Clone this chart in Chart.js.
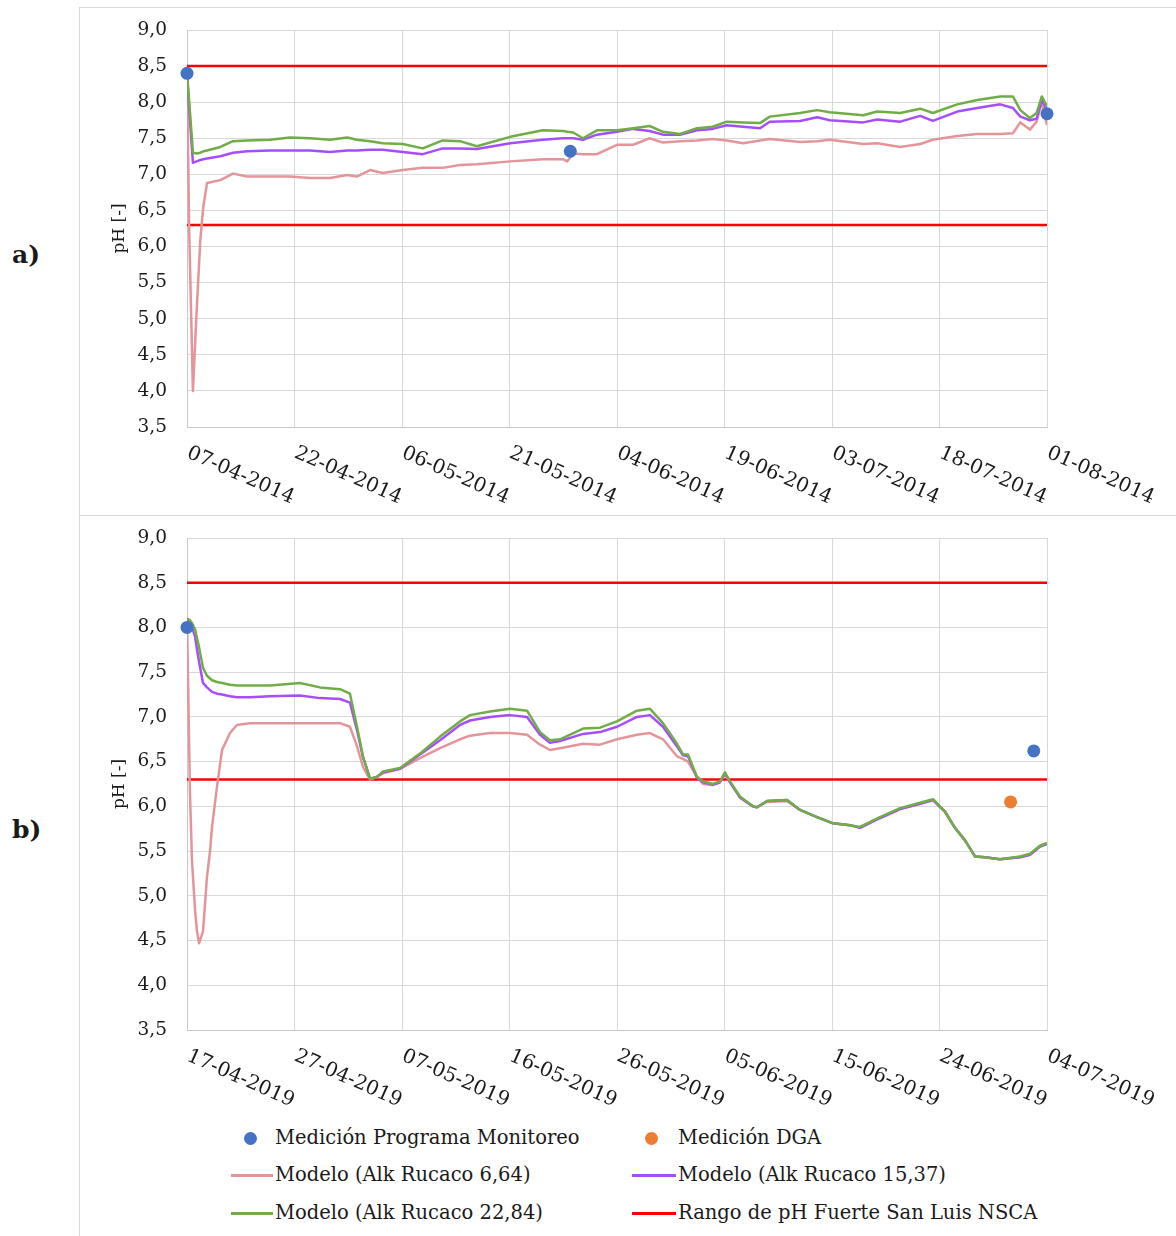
<!DOCTYPE html>
<html>
<head>
<meta charset="utf-8">
<script src="https://cdn.jsdelivr.net/npm/chart.js@4.4.1/dist/chart.umd.min.js"></script>
<style>
  html, body { margin: 0; padding: 0; background: #fff; }
  body { width: 1176px; height: 1236px; position: relative; overflow: hidden; font-family: "DejaVu Serif", serif; color: #1a1a1a; }
  .rule { position: absolute; background: #d9d9d9; }
  canvas { position: absolute; left: 81px; }
  .tag { position: absolute; left: 12px; font: bold 25px "DejaVu Serif", serif; line-height: 30px; }
  .lg-text { position: absolute; font-size: 19.5px; line-height: 24px; white-space: nowrap; }
  .lg-dot { position: absolute; width: 13px; height: 13px; border-radius: 50%; }
  .lg-line { position: absolute; height: 3px; }
</style>
</head>
<body>
<div class="rule" style="left:79px;top:7px;width:1px;height:1229px"></div>
<div class="rule" style="left:79px;top:7px;width:1097px;height:1px"></div>
<div class="rule" style="left:79px;top:515px;width:1097px;height:1px"></div>
<div class="tag" style="top:240px">a)</div>
<div class="tag" style="top:815px">b)</div>
<canvas id="chartA" width="1095" height="507" style="top:8px"></canvas>
<canvas id="chartB" width="1095" height="600" style="top:516px"></canvas>
<div id="legend"></div>
<script>
// ---- Panel a: 2014 (days since 07-04-2014) ----
const aTickLabels = ['07-04-2014','22-04-2014','06-05-2014','21-05-2014','04-06-2014','19-06-2014','03-07-2014','18-07-2014','01-08-2014'];
const aSpanDays = 116;
const aDays = [0,0.3,0.8,1.3,1.8,2.2,2.7,4.5,6.2,8.1,11.2,13.9,16.6,19.3,21.6,22.9,24.7,26.4,29.1,31.8,34.5,36.8,39.1,43.6,48.0,50.7,51.3,52.1,53.4,55.3,58.0,60.2,62.4,64.2,66.5,68.8,70.9,72.8,75.0,77.3,78.6,82.7,85.0,86.7,91.2,93.1,96.2,98.9,100.6,103.9,106.6,109.7,111.4,112.4,113.7,114.6,115.3,116];
const aAlk664 = [8.4,6.2,4.0,5.1,6.1,6.55,6.88,6.92,7.01,6.97,6.97,6.97,6.95,6.95,6.99,6.97,7.06,7.02,7.06,7.09,7.09,7.13,7.14,7.18,7.21,7.21,7.18,7.29,7.28,7.28,7.41,7.41,7.50,7.44,7.46,7.47,7.49,7.47,7.43,7.47,7.49,7.45,7.46,7.48,7.42,7.43,7.38,7.42,7.48,7.53,7.56,7.56,7.57,7.72,7.62,7.73,8.0,7.68];
const aAlk1537 = [8.4,7.9,7.16,7.18,7.2,7.21,7.22,7.25,7.3,7.32,7.33,7.33,7.33,7.31,7.33,7.33,7.34,7.34,7.31,7.28,7.36,7.36,7.35,7.43,7.48,7.50,7.50,7.50,7.48,7.55,7.59,7.63,7.60,7.55,7.55,7.61,7.63,7.68,7.66,7.64,7.73,7.74,7.79,7.75,7.72,7.76,7.73,7.81,7.74,7.87,7.92,7.97,7.92,7.80,7.75,7.77,8.03,7.89];
const aAlk2284 = [8.4,8.0,7.30,7.29,7.30,7.32,7.33,7.38,7.46,7.47,7.48,7.51,7.50,7.48,7.51,7.48,7.46,7.43,7.42,7.36,7.47,7.46,7.39,7.52,7.61,7.60,7.59,7.58,7.50,7.61,7.61,7.64,7.67,7.59,7.56,7.64,7.66,7.73,7.72,7.71,7.80,7.85,7.89,7.86,7.82,7.87,7.85,7.91,7.85,7.97,8.03,8.08,8.08,7.89,7.78,7.85,8.08,7.94];
const aMonitorDays = [0, 51.7, 116];
const aMonitorPH = [8.4, 7.32, 7.84];
const aDgaDays = [];
const aDgaPH = [];

// ---- Panel b: 2019 (days since 17-04-2019) ----
const bTickLabels = ['17-04-2019','27-04-2019','07-05-2019','16-05-2019','26-05-2019','05-06-2019','15-06-2019','24-06-2019','04-07-2019'];
const bSpanDays = 78;
const bDays = [0,0.27,0.45,0.73,0.91,1.09,1.45,1.81,2.09,2.27,2.72,3.18,3.9,4.53,5.71,7.53,10.25,12.06,13.88,14.78,15.42,15.96,16.6,17.23,17.78,19.32,21.13,22.95,24.76,25.67,27.48,29.3,30.84,32.02,32.92,33.83,35.92,37.46,39.0,40.81,41.99,43.17,44.44,44.98,45.44,46.25,46.8,47.7,48.34,48.79,49.25,50.15,51.33,51.7,52.6,54.42,55.6,57.14,58.59,60.13,61.04,62.85,64.67,66.48,67.66,68.75,69.65,70.56,71.47,72.37,73.73,75.55,76.46,77.36,78];
const bAlk664 = [8.1,6.15,5.4,4.84,4.6,4.47,4.6,5.21,5.5,5.77,6.22,6.63,6.82,6.91,6.93,6.93,6.93,6.93,6.93,6.89,6.67,6.44,6.30,6.33,6.37,6.42,6.54,6.65,6.75,6.79,6.82,6.82,6.80,6.69,6.63,6.65,6.70,6.69,6.75,6.80,6.82,6.75,6.56,6.53,6.50,6.33,6.25,6.24,6.27,6.36,6.27,6.10,6.0,5.99,6.05,6.06,5.96,5.88,5.81,5.79,5.76,5.87,5.97,6.03,6.07,5.94,5.76,5.62,5.44,5.43,5.41,5.43,5.46,5.55,5.58];
const bAlk1537 = [8.1,8.05,8.0,7.9,7.75,7.62,7.38,7.33,7.30,7.28,7.26,7.25,7.23,7.22,7.22,7.23,7.24,7.21,7.20,7.16,6.85,6.55,6.31,6.33,6.38,6.42,6.58,6.74,6.91,6.96,7.0,7.02,7.0,6.80,6.71,6.73,6.81,6.83,6.89,7.0,7.02,6.89,6.67,6.57,6.56,6.32,6.27,6.24,6.27,6.37,6.27,6.10,6.0,5.99,6.06,6.07,5.96,5.88,5.81,5.79,5.76,5.87,5.97,6.03,6.07,5.94,5.76,5.62,5.44,5.43,5.41,5.43,5.46,5.55,5.58];
const bAlk2284 = [8.1,8.08,8.05,7.98,7.88,7.78,7.55,7.46,7.43,7.41,7.39,7.38,7.36,7.35,7.35,7.35,7.38,7.33,7.31,7.26,6.89,6.56,6.31,6.33,6.39,6.43,6.59,6.78,6.95,7.02,7.06,7.09,7.07,6.83,6.74,6.75,6.87,6.88,6.95,7.07,7.09,6.93,6.70,6.58,6.58,6.33,6.28,6.25,6.28,6.38,6.28,6.11,6.0,5.99,6.06,6.07,5.96,5.88,5.81,5.79,5.77,5.88,5.98,6.04,6.08,5.94,5.76,5.62,5.44,5.43,5.41,5.44,5.47,5.56,5.59];
const bMonitorDays = [0, 76.8];
const bMonitorPH = [8.0, 6.62];
const bDgaDays = [74.7];
const bDgaPH = [6.05];

// NSCA pH range limits (Fuerte San Luis)
const phRange = [6.3, 8.5];

const seriesNames = ['Medición Programa Monitoreo', 'Medición DGA', 'Modelo (Alk Rucaco 6,64)', 'Modelo (Alk Rucaco 15,37)', 'Modelo (Alk Rucaco 22,84)', 'Rango de pH Fuerte San Luis NSCA'];
const seriesColors = ['#4472c4', '#ed7d31', '#e3959a', '#a64dff', '#70ad47', '#ff0000'];
const seriesKind = ['dot', 'dot', 'line', 'line', 'line', 'line'];

const SERIF = '"DejaVu Serif", serif';
const TEXT = '#1a1a1a';
const GRID = '#d9d9d9';

const pairs = (xs, ys) => xs.map((x, i) => ({ x, y: ys[i] }));

// Rotated date labels and the vertical axis title
const axisText = {
  id: 'axisText',
  afterDraw(chart, args, opts) {
    const { ctx, chartArea } = chart;
    const xs = chart.scales.x;
    ctx.save();
    ctx.fillStyle = TEXT;
    ctx.font = '20px ' + SERIF;
    ctx.textAlign = 'left';
    ctx.textBaseline = 'top';
    xs.ticks.forEach((t, i) => {
      const px = xs.getPixelForValue(t.value);
      ctx.save();
      ctx.translate(px + 5, chartArea.bottom + 16);
      ctx.rotate(24 * Math.PI / 180);
      ctx.fillText(opts.labels[i], 0, 0);
      ctx.restore();
    });
    ctx.translate(39, (chartArea.top + chartArea.bottom) / 2);
    ctx.rotate(-Math.PI / 2);
    ctx.textAlign = 'center';
    ctx.textBaseline = 'middle';
    ctx.font = '17px ' + SERIF;
    ctx.fillText('pH [-]', 0, 0);
    ctx.restore();
  }
};

function buildChart(id, pad, span, tickLabels, days, alk664, alk1537, alk2284, monDays, monPH, dgaDays, dgaPH) {
  const dot = (i, xs, ys) => ({
    label: seriesNames[i], data: pairs(xs, ys), showLine: false,
    pointRadius: 6.5, pointHoverRadius: 6.5, pointBorderWidth: 0,
    backgroundColor: seriesColors[i], borderColor: seriesColors[i], clip: false, order: 0
  });
  const line = (i, ys, order) => ({
    label: seriesNames[i], data: pairs(days, ys), borderColor: seriesColors[i],
    borderWidth: 2.5, pointRadius: 0, tension: 0, borderJoinStyle: 'round', order
  });
  const limit = (v) => ({
    label: seriesNames[5], data: [{ x: 0, y: v }, { x: span, y: v }], borderColor: seriesColors[5],
    borderWidth: 2.5, pointRadius: 0, order: 4
  });
  return new Chart(document.getElementById(id), {
    type: 'line',
    data: {
      datasets: [
        dot(0, monDays, monPH),
        dot(1, dgaDays, dgaPH),
        line(2, alk664, 3),
        line(3, alk1537, 2),
        line(4, alk2284, 1),
        limit(phRange[1]),
        limit(phRange[0])
      ]
    },
    options: {
      responsive: false,
      animation: false,
      devicePixelRatio: 1,
      events: [],
      layout: { padding: pad, autoPadding: false },
      plugins: { legend: { display: false }, tooltip: { enabled: false }, axisText: { labels: tickLabels } },
      scales: {
        x: {
          type: 'linear', min: 0, max: span,
          afterBuildTicks: (s) => { s.ticks = tickLabels.map((_, i) => ({ value: span * i / (tickLabels.length - 1) })); },
          afterFit: (s) => { s.height = 0; s.paddingLeft = 0; s.paddingRight = 0; },
          ticks: { display: false },
          grid: { color: GRID, lineWidth: 1, drawTicks: false },
          border: { color: '#c8c8c8', width: 1 }
        },
        y: {
          min: 3.5, max: 9,
          afterFit: (s) => { s.width = 106; s.paddingTop = 0; s.paddingBottom = 0; },
          ticks: {
            stepSize: 0.5, padding: 20, color: TEXT,
            font: { family: SERIF, size: 18.5 },
            callback: (v) => v.toFixed(1).replace('.', ',')
          },
          grid: { color: GRID, lineWidth: 1, drawTicks: false },
          border: { color: '#c8c8c8', width: 1 }
        }
      }
    },
    plugins: [axisText]
  });
}

buildChart('chartA', { left: 0, top: 22, right: 129, bottom: 88 }, aSpanDays, aTickLabels, aDays, aAlk664, aAlk1537, aAlk2284, aMonitorDays, aMonitorPH, aDgaDays, aDgaPH);
buildChart('chartB', { left: 0, top: 22, right: 129, bottom: 86 }, bSpanDays, bTickLabels, bDays, bAlk664, bAlk1537, bAlk2284, bMonitorDays, bMonitorPH, bDgaDays, bDgaPH);

// Shared legend under panel b
const legend = document.getElementById('legend');
const colMarker = [231, 632], colText = [275, 678], rowY = [1138, 1175, 1213];
seriesNames.forEach((name, i) => {
  const col = i % 2, row = Math.floor(i / 2), cy = rowY[row];
  const m = document.createElement('div');
  if (seriesKind[i] === 'dot') {
    m.className = 'lg-dot';
    m.style.left = (colMarker[col] + 13) + 'px';
    m.style.top = (cy - 6.5) + 'px';
  } else {
    m.className = 'lg-line';
    m.style.left = colMarker[col] + 'px';
    m.style.width = (colText[col] - colMarker[col] - 2) + 'px';
    m.style.top = (cy - 1.5) + 'px';
  }
  m.style.background = seriesColors[i];
  legend.appendChild(m);
  const t = document.createElement('div');
  t.className = 'lg-text';
  t.style.left = colText[col] + 'px';
  t.style.top = (cy - 12) + 'px';
  t.textContent = name;
  legend.appendChild(t);
});
</script>
</body>
</html>
